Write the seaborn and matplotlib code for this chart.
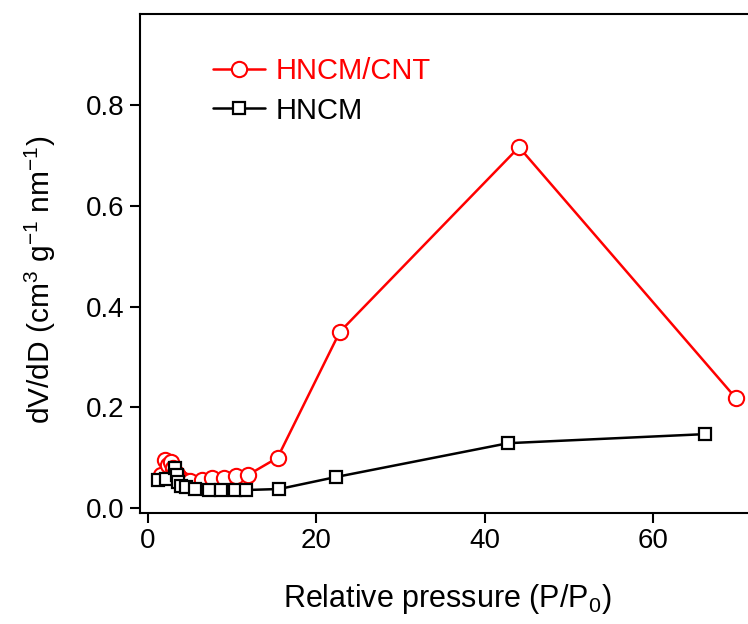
import matplotlib
matplotlib.use('Agg')
import matplotlib.pyplot as plt
import pandas as pd
import seaborn as sns

# Data
cnt_x = [1.6, 2.0, 2.4, 2.8, 3.0, 3.2, 3.4, 3.6, 3.8, 4.2, 4.6, 5.0, 6.4, 7.6, 9.1, 10.5, 11.9, 15.4, 22.8, 44.1, 69.9]
cnt_y = [0.066, 0.096, 0.085, 0.092, 0.080, 0.072, 0.068, 0.063, 0.060, 0.056, 0.054, 0.053, 0.056, 0.059, 0.059,
         0.063, 0.066, 0.100, 0.350, 0.717, 0.218]
hncm_x = [1.2, 2.2, 3.2, 3.4, 3.6, 3.9, 4.5, 5.6, 7.2, 8.7, 10.3, 11.7, 15.6, 22.4, 42.8, 66.2]
hncm_y = [0.055, 0.058, 0.080, 0.066, 0.052, 0.044, 0.041, 0.038, 0.037, 0.036, 0.036, 0.036, 0.038, 0.062, 0.129,
          0.147]

df_cnt = pd.DataFrame({'x': cnt_x, 'y': cnt_y})
df_hncm = pd.DataFrame({'x': hncm_x, 'y': hncm_y})

sns.set_style('ticks')
plt.rcParams['font.family'] = ['Liberation Sans', 'DejaVu Sans']
plt.rcParams['mathtext.default'] = 'regular'
plt.rcParams['text.color'] = 'black'
plt.rcParams['axes.labelcolor'] = 'black'
plt.rcParams['xtick.color'] = 'black'
plt.rcParams['ytick.color'] = 'black'

fig = plt.figure(figsize=(7.48, 6.24), dpi=100)
# axes run past the right edge, like the cropped original
ax = fig.add_axes([0.1865, 0.178, 0.855, 0.7997])

sns.lineplot(data=df_cnt, x='x', y='y', ax=ax, sort=False, color='red', linewidth=1.8, marker='o',
             markersize=11, markerfacecolor='white', markeredgecolor='red', markeredgewidth=1.5,
             label='HNCM/CNT')
sns.lineplot(data=df_hncm, x='x', y='y', ax=ax, sort=False, color='black', linewidth=1.8, marker='s',
             markersize=9, markerfacecolor='white', markeredgecolor='black', markeredgewidth=1.6,
             label='HNCM')

ax.set_xlim(-1, 75)
ax.set_ylim(-0.0095, 0.9815)
ax.set_xticks([0, 20, 40, 60])
ax.set_yticks([0.0, 0.2, 0.4, 0.6, 0.8])
ax.set_yticklabels(['0.0', '0.2', '0.4', '0.6', '0.8'])
ax.tick_params(direction='out', length=7, width=1.5, labelsize=20, pad=4)
for s in ax.spines.values():
    s.set_linewidth(1.5)
    s.set_color('black')

ax.set_xlabel('Relative pressure (P/P$_0$)', fontsize=22, labelpad=20, x=0.481)
ax.set_ylabel('dV/dD (cm$^3$ g$^{-1}$ nm$^{-1}$)', fontsize=21.5, labelpad=20, y=0.467)

leg = ax.legend(loc='upper left', bbox_to_anchor=(0.265, 0.932), bbox_transform=fig.transFigure, frameon=False,
                fontsize=21, handlelength=1.8, handletextpad=0.35, labelspacing=0.4, borderpad=0)
for t, c in zip(leg.get_texts(), ['red', 'black']):
    t.set_color(c)

fig.savefig('out.png', dpi=100)
